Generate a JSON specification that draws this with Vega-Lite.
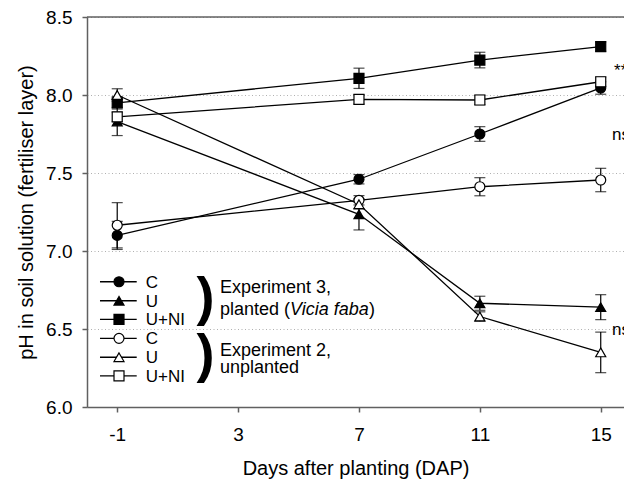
{
  "$schema": "https://vega.github.io/schema/vega-lite/v6.json",
  "width": 537,
  "height": 390,
  "autosize": {"type": "none"},
  "padding": {"left": 87, "top": 17, "right": 0, "bottom": 74},
  "background": "white",
  "config": {
    "view": {"stroke": null},
    "font": "Liberation Sans",
    "axis": {
      "labelFont": "Liberation Sans",
      "titleFont": "Liberation Sans",
      "labelFontSize": 19,
      "titleFontSize": 20,
      "titleFontWeight": "normal",
      "labelColor": "black",
      "titleColor": "black",
      "domainColor": "#606060",
      "domainWidth": 1.5,
      "tickColor": "#606060",
      "tickWidth": 1.5,
      "tickSize": 5
    },
    "text": {"font": "Liberation Sans", "color": "black"}
  },
  "datasets": {
    "ph": [
      {"series": "C, Exp 3", "day": -1, "ph": 7.10, "se": 0.09},
      {"series": "C, Exp 3", "day": 7, "ph": 7.46, "se": 0.03},
      {"series": "C, Exp 3", "day": 11, "ph": 7.75, "se": 0.047},
      {"series": "C, Exp 3", "day": 15, "ph": 8.045, "se": 0.04},
      {"series": "U, Exp 3", "day": -1, "ph": 7.83, "se": 0.09},
      {"series": "U, Exp 3", "day": 7, "ph": 7.235, "se": 0.10},
      {"series": "U, Exp 3", "day": 11, "ph": 6.665, "se": 0.045},
      {"series": "U, Exp 3", "day": 15, "ph": 6.64, "se": 0.08},
      {"series": "U+NI, Exp 3", "day": -1, "ph": 7.95, "se": 0.04},
      {"series": "U+NI, Exp 3", "day": 7, "ph": 8.107, "se": 0.065},
      {"series": "U+NI, Exp 3", "day": 11, "ph": 8.224, "se": 0.05},
      {"series": "U+NI, Exp 3", "day": 15, "ph": 8.31, "se": 0.03},
      {"series": "C, Exp 2", "day": -1, "ph": 7.165, "se": 0.145},
      {"series": "C, Exp 2", "day": 7, "ph": 7.325, "se": 0.03},
      {"series": "C, Exp 2", "day": 11, "ph": 7.412, "se": 0.058},
      {"series": "C, Exp 2", "day": 15, "ph": 7.455, "se": 0.075},
      {"series": "U, Exp 2", "day": -1, "ph": 8.00, "se": 0.04},
      {"series": "U, Exp 2", "day": 7, "ph": 7.30, "se": 0.03},
      {"series": "U, Exp 2", "day": 11, "ph": 6.58, "se": 0.03},
      {"series": "U, Exp 2", "day": 15, "ph": 6.35, "se": 0.13},
      {"series": "U+NI, Exp 2", "day": -1, "ph": 7.86, "se": 0.03},
      {"series": "U+NI, Exp 2", "day": 7, "ph": 7.972, "se": 0.03},
      {"series": "U+NI, Exp 2", "day": 11, "ph": 7.968, "se": 0.03},
      {"series": "U+NI, Exp 2", "day": 15, "ph": 8.085, "se": 0.03}
    ]
  },
  "layer": [
    {
      "data": {"name": "ph"},
      "mark": {"type": "line", "color": "black", "strokeWidth": 1.3},
      "encoding": {
        "x": {
          "field": "day",
          "type": "quantitative",
          "title": "Days after planting (DAP)",
          "scale": {"domain": [-2, 15.77], "nice": false, "zero": false},
          "axis": {
            "values": [-1, 3, 7, 11, 15],
            "labelExpr": "datum.value < 0 ? '-' + abs(datum.value) : '' + datum.value",
            "grid": false,
            "labelPadding": 13,
            "titlePadding": 14
          }
        },
        "y": {
          "field": "ph",
          "type": "quantitative",
          "title": "pH in soil solution (fertiliser layer)",
          "scale": {"domain": [6, 8.5], "nice": false, "zero": false},
          "axis": {
            "values": [6, 6.5, 7, 7.5, 8, 8.5],
            "format": ".1f",
            "grid": true,
            "gridColor": "#b0b0b0",
            "gridDash": [1, 2.5],
            "gridWidth": 1,
            "labelPadding": 10,
            "titlePadding": 9
          }
        },
        "detail": {"field": "series"}
      }
    },
    {
      "data": {"values": [{"label": "top"}]},
      "mark": {"type": "rule", "color": "#606060", "strokeWidth": 1.5},
      "encoding": {"y": {"datum": 8.5}}
    },
    {
      "data": {"name": "ph"},
      "mark": {"type": "errorbar", "color": "black", "ticks": {"size": 11, "thickness": 1.2}, "rule": {"strokeWidth": 1.2}},
      "encoding": {
        "x": {"field": "day", "type": "quantitative", "title": "Days after planting (DAP)"},
        "y": {"field": "ph", "type": "quantitative", "title": "pH in soil solution (fertiliser layer)"},
        "yError": {"field": "se"},
        "detail": {"field": "series"}
      }
    },
    {
      "data": {"name": "ph"},
      "mark": {"type": "point", "filled": true, "size": 100, "stroke": "black", "strokeWidth": 1.2, "opacity": 1},
      "encoding": {
        "x": {"field": "day", "type": "quantitative", "title": "Days after planting (DAP)"},
        "y": {"field": "ph", "type": "quantitative", "title": "pH in soil solution (fertiliser layer)"},
        "shape": {
          "field": "series",
          "type": "nominal",
          "scale": {
            "domain": ["C, Exp 3", "U, Exp 3", "U+NI, Exp 3", "C, Exp 2", "U, Exp 2", "U+NI, Exp 2"],
            "range": ["circle", "triangle-up", "square", "circle", "triangle-up", "square"]
          },
          "legend": null
        },
        "fill": {
          "field": "series",
          "type": "nominal",
          "scale": {
            "domain": ["C, Exp 3", "U, Exp 3", "U+NI, Exp 3", "C, Exp 2", "U, Exp 2", "U+NI, Exp 2"],
            "range": ["black", "black", "black", "white", "white", "white"]
          },
          "legend": null
        }
      }
    },
    {
      "data": {"values": [{"label": "C"}]},
      "encoding": {"y": {"datum": 6.803}},
      "layer": [
        {"mark": {"type": "rule", "color": "black", "strokeWidth": 1.3}, "encoding": {"x": {"datum": -1.57}, "x2": {"datum": -0.355}}},
        {"mark": {"type": "point", "shape": "circle", "filled": true, "fill": "black", "stroke": "black", "strokeWidth": 1.2, "size": 100, "opacity": 1}, "encoding": {"x": {"datum": -0.941}}},
        {"mark": {"type": "text", "align": "left", "baseline": "middle", "fontSize": 17, "dy": 1}, "encoding": {"x": {"datum": -0.054}, "text": {"field": "label"}}}
      ]
    },
    {
      "data": {"values": [{"label": "U"}]},
      "encoding": {"y": {"datum": 6.681}},
      "layer": [
        {"mark": {"type": "rule", "color": "black", "strokeWidth": 1.3}, "encoding": {"x": {"datum": -1.57}, "x2": {"datum": -0.355}}},
        {"mark": {"type": "point", "shape": "triangle-up", "filled": true, "fill": "black", "stroke": "black", "strokeWidth": 1.2, "size": 100, "opacity": 1}, "encoding": {"x": {"datum": -0.941}}},
        {"mark": {"type": "text", "align": "left", "baseline": "middle", "fontSize": 17, "dy": 1}, "encoding": {"x": {"datum": -0.054}, "text": {"field": "label"}}}
      ]
    },
    {
      "data": {"values": [{"label": "U+NI"}]},
      "encoding": {"y": {"datum": 6.562}},
      "layer": [
        {"mark": {"type": "rule", "color": "black", "strokeWidth": 1.3}, "encoding": {"x": {"datum": -1.57}, "x2": {"datum": -0.355}}},
        {"mark": {"type": "point", "shape": "square", "filled": true, "fill": "black", "stroke": "black", "strokeWidth": 1.2, "size": 100, "opacity": 1}, "encoding": {"x": {"datum": -0.941}}},
        {"mark": {"type": "text", "align": "left", "baseline": "middle", "fontSize": 17, "dy": 1}, "encoding": {"x": {"datum": -0.054}, "text": {"field": "label"}}}
      ]
    },
    {
      "data": {"values": [{"label": "C"}]},
      "encoding": {"y": {"datum": 6.44}},
      "layer": [
        {"mark": {"type": "rule", "color": "black", "strokeWidth": 1.3}, "encoding": {"x": {"datum": -1.57}, "x2": {"datum": -0.355}}},
        {"mark": {"type": "point", "shape": "circle", "filled": true, "fill": "white", "stroke": "black", "strokeWidth": 1.2, "size": 100, "opacity": 1}, "encoding": {"x": {"datum": -0.941}}},
        {"mark": {"type": "text", "align": "left", "baseline": "middle", "fontSize": 17, "dy": 1}, "encoding": {"x": {"datum": -0.054}, "text": {"field": "label"}}}
      ]
    },
    {
      "data": {"values": [{"label": "U"}]},
      "encoding": {"y": {"datum": 6.319}},
      "layer": [
        {"mark": {"type": "rule", "color": "black", "strokeWidth": 1.3}, "encoding": {"x": {"datum": -1.57}, "x2": {"datum": -0.355}}},
        {"mark": {"type": "point", "shape": "triangle-up", "filled": true, "fill": "white", "stroke": "black", "strokeWidth": 1.2, "size": 100, "opacity": 1}, "encoding": {"x": {"datum": -0.941}}},
        {"mark": {"type": "text", "align": "left", "baseline": "middle", "fontSize": 17, "dy": 1}, "encoding": {"x": {"datum": -0.054}, "text": {"field": "label"}}}
      ]
    },
    {
      "data": {"values": [{"label": "U+NI"}]},
      "encoding": {"y": {"datum": 6.199}},
      "layer": [
        {"mark": {"type": "rule", "color": "black", "strokeWidth": 1.3}, "encoding": {"x": {"datum": -1.57}, "x2": {"datum": -0.355}}},
        {"mark": {"type": "point", "shape": "square", "filled": true, "fill": "white", "stroke": "black", "strokeWidth": 1.2, "size": 100, "opacity": 1}, "encoding": {"x": {"datum": -0.941}}},
        {"mark": {"type": "text", "align": "left", "baseline": "middle", "fontSize": 17, "dy": 1}, "encoding": {"x": {"datum": -0.054}, "text": {"field": "label"}}}
      ]
    },
    {
      "data": {"values": [{"label": ")"}]},
      "mark": {"type": "text", "align": "left", "baseline": "alphabetic", "fontSize": 54, "fontWeight": "bold"},
      "encoding": {"x": {"datum": 1.62}, "y": {"datum": 6.588}, "text": {"field": "label"}}
    },
    {
      "data": {"values": [{"label": ")"}]},
      "mark": {"type": "text", "align": "left", "baseline": "alphabetic", "fontSize": 54, "fontWeight": "bold"},
      "encoding": {"x": {"datum": 1.62}, "y": {"datum": 6.227}, "text": {"field": "label"}}
    },
    {
      "data": {"values": [{"label": "Experiment 3,"}]},
      "mark": {"type": "text", "align": "left", "baseline": "alphabetic", "fontSize": 18},
      "encoding": {"x": {"datum": 2.4}, "y": {"datum": 6.729}, "text": {"field": "label"}}
    },
    {
      "data": {"values": [{"label": "planted ("}]},
      "mark": {"type": "text", "align": "left", "baseline": "alphabetic", "fontSize": 18},
      "encoding": {"x": {"datum": 2.4}, "y": {"datum": 6.59}, "text": {"field": "label"}}
    },
    {
      "data": {"values": [{"label": "Vicia faba"}]},
      "mark": {"type": "text", "align": "left", "baseline": "alphabetic", "fontSize": 18, "fontStyle": "italic"},
      "encoding": {"x": {"datum": 4.716}, "y": {"datum": 6.59}, "text": {"field": "label"}}
    },
    {
      "data": {"values": [{"label": ")"}]},
      "mark": {"type": "text", "align": "left", "baseline": "alphabetic", "fontSize": 18},
      "encoding": {"x": {"datum": 7.33}, "y": {"datum": 6.59}, "text": {"field": "label"}}
    },
    {
      "data": {"values": [{"label": "Experiment 2,"}]},
      "mark": {"type": "text", "align": "left", "baseline": "alphabetic", "fontSize": 18},
      "encoding": {"x": {"datum": 2.4}, "y": {"datum": 6.329}, "text": {"field": "label"}}
    },
    {
      "data": {"values": [{"label": "unplanted"}]},
      "mark": {"type": "text", "align": "left", "baseline": "alphabetic", "fontSize": 18},
      "encoding": {"x": {"datum": 2.4}, "y": {"datum": 6.218}, "text": {"field": "label"}}
    },
    {
      "data": {"values": [{"label": "**"}]},
      "mark": {"type": "text", "align": "left", "baseline": "alphabetic", "fontSize": 17},
      "encoding": {"x": {"datum": 15.44}, "y": {"datum": 8.119}, "text": {"field": "label"}}
    },
    {
      "data": {"values": [{"label": "ns"}]},
      "mark": {"type": "text", "align": "left", "baseline": "alphabetic", "fontSize": 17},
      "encoding": {"x": {"datum": 15.373}, "y": {"datum": 7.712}, "text": {"field": "label"}}
    },
    {
      "data": {"values": [{"label": "ns"}]},
      "mark": {"type": "text", "align": "left", "baseline": "alphabetic", "fontSize": 17},
      "encoding": {"x": {"datum": 15.373}, "y": {"datum": 6.462}, "text": {"field": "label"}}
    }
  ]
}
